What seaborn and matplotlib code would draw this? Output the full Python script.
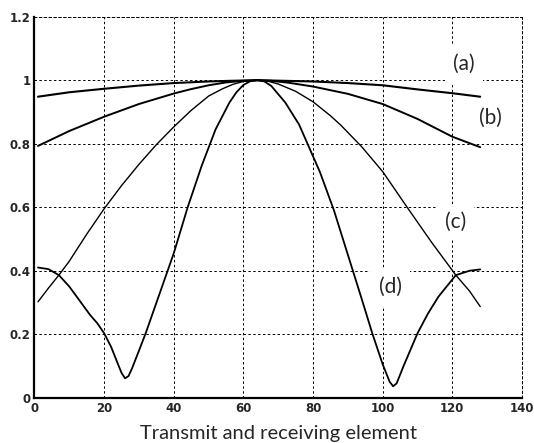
import numpy as np
import pandas as pd
import matplotlib
matplotlib.use("Agg")
import matplotlib.pyplot as plt
import seaborn as sns

# element index and normalised response for each curve
x_a = [1, 10, 20, 30, 40, 50, 56, 60, 64, 68, 72, 80, 90, 100, 110, 120, 128]
y_a = [0.948, 0.962, 0.973, 0.983, 0.991, 0.996, 0.998, 0.999, 1.0, 0.999, 0.998, 0.996, 0.991, 0.984, 0.971, 0.959, 0.948]

x_b = [1, 10, 20, 30, 40, 45, 50, 55, 60, 64, 68, 73, 80, 90, 100, 110, 120, 128]
y_b = [0.793, 0.840, 0.885, 0.925, 0.958, 0.972, 0.984, 0.993, 0.998, 1.0, 0.998, 0.992, 0.980, 0.957, 0.925, 0.878, 0.822, 0.789]

x_c = [1, 4, 7, 10, 15, 20, 25, 30, 35, 40, 45, 50, 54, 57, 60, 64, 67, 70, 75, 80, 85, 88, 94, 100, 107, 114, 121, 125, 128]
y_c = [0.302, 0.345, 0.386, 0.430, 0.515, 0.595, 0.668, 0.735, 0.797, 0.853, 0.905, 0.950, 0.973, 0.987, 0.996, 1.0, 0.997, 0.988, 0.965, 0.932, 0.888, 0.858, 0.790, 0.712, 0.600, 0.490, 0.386, 0.335, 0.287]

x_d = [1, 4, 7, 10, 13, 16, 18, 20, 22, 24, 25, 26, 27, 28, 30, 32, 36, 40, 44, 48, 52, 56, 58, 60, 62, 64,
       66, 68, 72, 76, 78, 82, 86, 90, 94, 97, 100, 102, 103, 104, 106, 110, 113, 116, 121, 125, 128]
y_d = [0.410, 0.405, 0.386, 0.350, 0.305, 0.260, 0.235, 0.203, 0.160, 0.105, 0.078, 0.061, 0.068, 0.092, 0.148, 0.205, 0.330, 0.455, 0.600, 0.730, 0.845, 0.930, 0.962, 0.985, 0.997, 1.0,
       0.996, 0.982, 0.930, 0.860, 0.810, 0.710, 0.590, 0.450, 0.310, 0.203, 0.105, 0.050, 0.036, 0.045, 0.100, 0.203, 0.265, 0.318, 0.386, 0.400, 0.404]

labels = ['(a)', '(b)', '(c)', '(d)']
label_x = [123.4, 130.9, 120.8, 102.1]
label_y = [1.05, 0.88, 0.553, 0.348]

sns.set_theme(style="white")
plt.rcParams['font.family'] = ['DejaVu Sans']

fig = plt.figure(figsize=(5.34, 4.43), dpi=100)
ax = fig.add_axes([0.0646, 0.1023, 0.9129, 0.86])

dash = (0, (2.5, 2.5))
for xs, ys, lw in [(x_a, y_a, 1.5), (x_b, y_b, 1.4), (x_c, y_c, 1.0), (x_d, y_d, 1.3)]:
    df = pd.DataFrame({'x': xs, 'y': ys})
    sns.lineplot(data=df, x='x', y='y', color='black', linewidth=lw, ax=ax, zorder=2)

ax.set_xlim(0, 140)
ax.set_ylim(0, 1.2)
ax.set_xticks(np.arange(0, 141, 20))
ax.set_yticks(np.arange(0, 1.21, 0.2))
ax.set_yticklabels(['0', '0.2', '0.4', '0.6', '0.8', '1', '1.2'])
ax.grid(True, color='black', linestyle=dash, linewidth=0.7)
ax.tick_params(length=0, labelsize=8.5, pad=3)
for t in ax.get_xticklabels() + ax.get_yticklabels():
    t.set_fontweight('bold')

for s in ['left', 'bottom']:
    ax.spines[s].set_color('black')
    ax.spines[s].set_linewidth(1.6)
for s in ['top', 'right']:
    ax.spines[s].set_color('black')
    ax.spines[s].set_linewidth(0.7)
    ax.spines[s].set_linestyle(dash)

for lab, lx, ly in zip(labels, label_x, label_y):
    ax.text(lx, ly, lab, ha='center', va='center', fontsize=15, family='Lato',
            bbox=dict(facecolor='white', edgecolor='none', pad=6), zorder=3)

ax.set_ylabel('')
ax.set_xlabel('Transmit and receiving element', fontsize=14.5, family='Lato', labelpad=7)

fig.savefig('out.png', dpi=100)
